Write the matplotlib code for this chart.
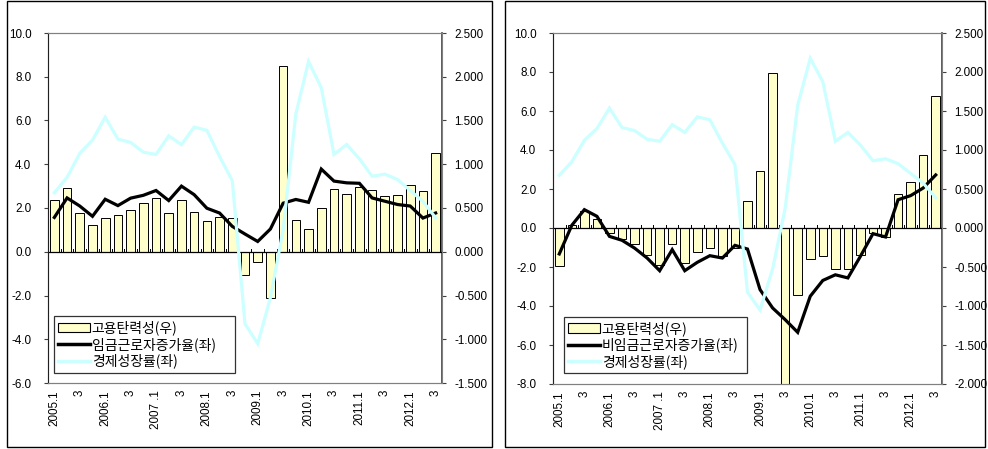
import matplotlib
matplotlib.use("Agg")
import matplotlib.pyplot as plt
from matplotlib.patches import Rectangle, Patch
from matplotlib.lines import Line2D
import numpy as np

plt.rcParams['font.family'] = ['Liberation Sans', 'Noto Sans CJK KR', 'DejaVu Sans']

# Quarterly series, 2005.1 - 2012.3
quarters = ["2005.1", "2005.2", "2005.3", "2005.4",
            "2006.1", "2006.2", "2006.3", "2006.4",
            "2007.1", "2007.2", "2007.3", "2007.4",
            "2008.1", "2008.2", "2008.3", "2008.4",
            "2009.1", "2009.2", "2009.3", "2009.4",
            "2010.1", "2010.2", "2010.3", "2010.4",
            "2011.1", "2011.2", "2011.3", "2011.4",
            "2012.1", "2012.2", "2012.3"]

# tick labels shown every second quarter
tick_labels = ["2005.1", "3", "2006.1", "3", "2007 .1", "3", "2008.1", "3",
               "2009.1", "3", "2010.1", "3", "2011.1", "3", "2012.1", "3"]

# economic growth rate (%), left axis
gdp_growth = [2.7, 3.4, 4.5, 5.1, 6.15, 5.15, 5.0, 4.55,
              4.45, 5.3, 4.9, 5.7, 5.55, 4.35, 3.25, -3.3,
              -4.2, -2.1, 1.0, 6.3, 8.7, 7.5, 4.45, 4.9,
              4.25, 3.45, 3.55, 3.3, 2.8, 2.3, 1.55]

# wage worker growth rate (%), left axis
wage_growth = [1.57, 2.46, 2.09, 1.62, 2.40, 2.11, 2.45, 2.58,
               2.80, 2.34, 3.0, 2.61, 1.99, 1.77, 1.16, 0.81,
               0.47, 1.04, 2.22, 2.39, 2.26, 3.78, 3.23, 3.15,
               3.13, 2.46, 2.31, 2.16, 2.09, 1.54, 1.77]

# employment elasticity of wage workers, right axis
wage_elasticity = [0.596, 0.73, 0.44, 0.31, 0.386, 0.417, 0.48, 0.56,
                   0.61, 0.44, 0.596, 0.455, 0.35, 0.40, 0.386, -0.26,
                   -0.12, -0.525, 2.12, 0.36, 0.255, 0.495, 0.716, 0.655,
                   0.74, 0.70, 0.636, 0.65, 0.758, 0.69, 1.124]

# non-wage worker growth rate (%), left axis
nonwage_growth = [-1.33, 0.14, 0.94, 0.6, -0.43, -0.63, -1.03, -1.54,
                  -2.19, -1.11, -2.19, -1.76, -1.42, -1.54, -0.89, -1.08,
                  -3.16, -4.1, -4.7, -5.35, -3.5, -2.69, -2.4, -2.56,
                  -1.45, -0.29, -0.46, 1.45, 1.66, 2.05, 2.72]

# employment elasticity of non-wage workers, right axis
nonwage_elasticity = [-0.49, 0.04, 0.22, 0.115, -0.07, -0.14, -0.21, -0.34,
                      -0.48, -0.205, -0.45, -0.31, -0.256, -0.355, -0.256, 0.34,
                      0.73, 1.99, -4.4, -0.855, -0.40, -0.355, -0.53, -0.52,
                      -0.34, -0.064, -0.12, 0.436, 0.585, 0.94, 1.69]

BAR_FILL = "#FFFFCC"
GROWTH_COLOR = "#CCFFFF"
W, H = 988, 449
FS = 8.4
LEG_FS = 10

fig = plt.figure(figsize=(W / 100, H / 100), dpi=100)


def px_axes(x0, y0, x1, y1):
    return fig.add_axes([x0 / W, 1 - y1 / H, (x1 - x0) / W, (y1 - y0) / H])


def draw_panel(box, rect, left_lim, right_lim, bars, line_vals, line_label, leg_box):
    # outer chart border
    bx0, by0, bx1, by1 = box
    fig.patches.append(Rectangle((bx0 / W, 1 - by1 / H), (bx1 - bx0) / W, (by1 - by0) / H,
                                 transform=fig.transFigure, fill=False,
                                 edgecolor="black", linewidth=1.0))

    ax = px_axes(*rect)
    ax2 = ax.twinx()
    x = np.arange(len(quarters))

    ax2.bar(x, bars, width=0.68, color=BAR_FILL, edgecolor="black",
            linewidth=0.7, zorder=2)
    ax2.set_ylim(*right_lim)
    ax2.set_yticks(np.arange(right_lim[0], right_lim[1] + 0.001, 0.5))
    ax2.set_yticklabels([f"{v:.3f}" for v in ax2.get_yticks()])

    ax.set_zorder(ax2.get_zorder() + 1)
    ax.patch.set_visible(False)
    ax.plot(x, line_vals, color="black", linewidth=2.3, solid_joinstyle="miter", zorder=3)
    ax.plot(x, gdp_growth, color=GROWTH_COLOR, linewidth=2.3, solid_joinstyle="miter", zorder=4)
    ax.set_ylim(*left_lim)
    ax.set_xlim(-0.5, len(quarters) - 0.5)
    ax.set_yticks(np.arange(left_lim[0], left_lim[1] + 0.001, 2.0))
    ax.set_yticklabels([f"{v:.1f}" for v in ax.get_yticks()])

    # zero line with category boundary ticks
    ax.axhline(0, color="black", linewidth=0.9, zorder=2.5)
    for b in np.arange(0.5, len(quarters) - 0.5, 1.0):
        ax.plot([b, b], [0, (left_lim[1] - left_lim[0]) * 0.009], color="black",
                linewidth=0.7, zorder=2.5)

    ax.set_xticks(x[::2])
    ax.set_xticklabels(tick_labels, rotation=90, fontsize=FS)
    ax.tick_params(axis="x", length=0, pad=5)
    ax.tick_params(axis="y", labelsize=FS, length=3, width=0.8, color="#404040", pad=9)
    ax2.tick_params(axis="y", labelsize=FS, length=3, width=0.8, color="#404040", pad=6)
    for a in (ax, ax2):
        for s in a.spines.values():
            s.set_linewidth(0.8)
            s.set_color("#808080")
    ax.spines["left"].set_color("#202020")
    ax2.spines["right"].set_color("#404040")
    ax2.spines["right"].set_linewidth(1.2)

    handles = [Patch(facecolor=BAR_FILL, edgecolor="black", linewidth=0.8),
               Line2D([], [], color="black", linewidth=2.5),
               Line2D([], [], color=GROWTH_COLOR, linewidth=2.5)]
    labels = ["고용탄력성(우)", line_label, "경제성장률(좌)"]
    lx0, ly0, lx1, ly1 = leg_box
    rx0, ry0, rx1, ry1 = rect
    anchor = ((lx0 - rx0) / (rx1 - rx0), (ry1 - ly1) / (ry1 - ry0),
              (lx1 - lx0) / (rx1 - rx0), (ly1 - ly0) / (ry1 - ry0))
    leg = ax.legend(handles, labels, loc="center left", bbox_to_anchor=anchor,
                    mode="expand",
                    prop={"family": ["Noto Sans CJK KR"], "size": LEG_FS},
                    frameon=True, fancybox=False, edgecolor="black", handlelength=2.3,
                    handletextpad=0.12, labelspacing=0.12, borderpad=0.3,
                    borderaxespad=0.0)
    leg.get_frame().set_linewidth(0.9)
    leg.set_zorder(10)


draw_panel((7, 1, 492, 447), (48, 33, 442, 383), (-6, 10), (-1.5, 2.5),
           wage_elasticity, wage_growth, "임금근로자증가율(좌)", (54, 312, 235, 377))
draw_panel((505, 1, 985, 447), (553, 33, 942, 384), (-8, 10), (-2.0, 2.5),
           nonwage_elasticity, nonwage_growth, "비임금근로자증가율(좌)", (564, 314, 747, 376))

fig.savefig("out.png", dpi=100)
